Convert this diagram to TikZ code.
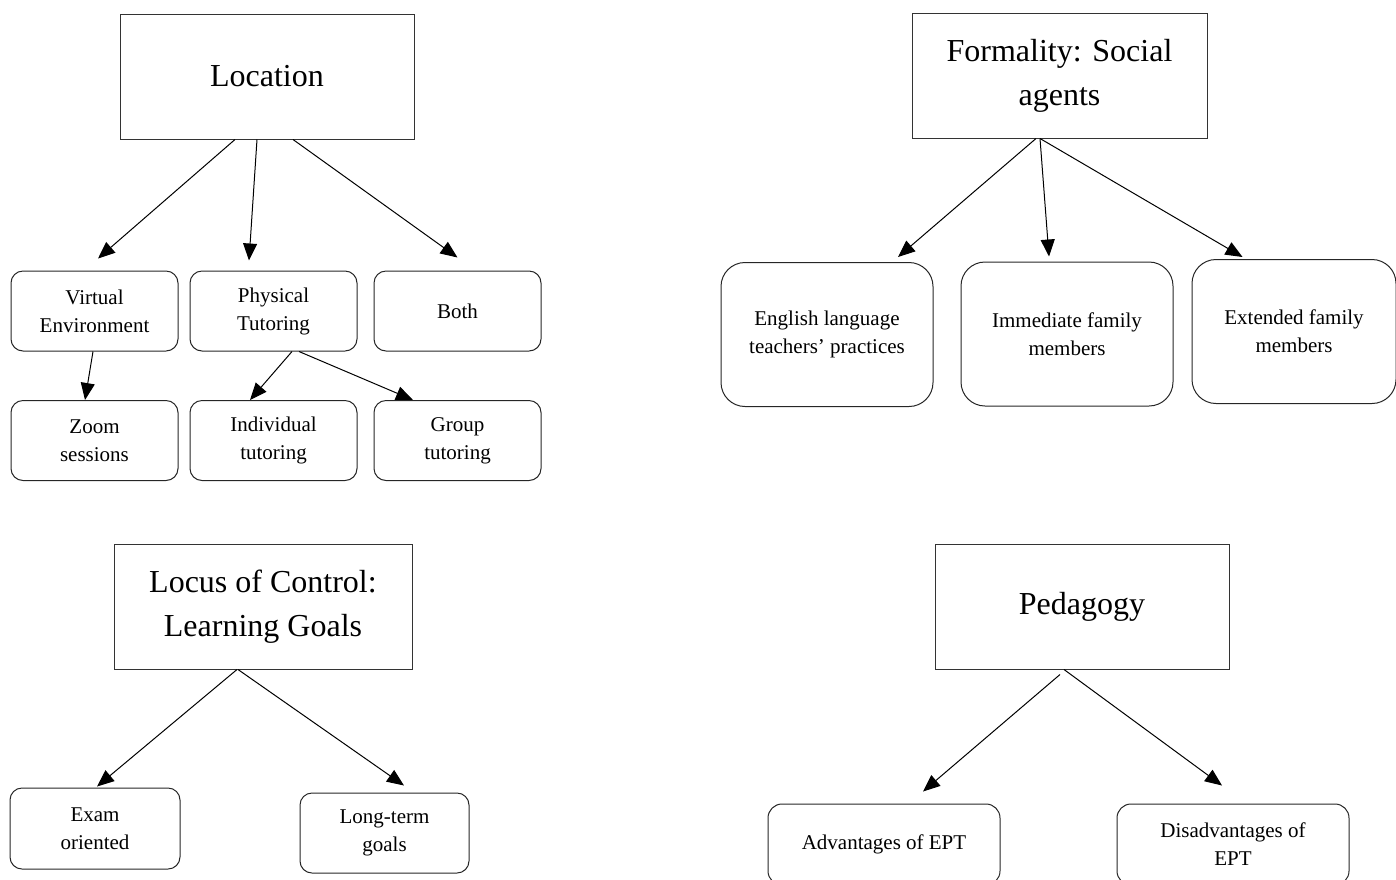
\documentclass[tikz,border=0pt]{standalone}
\usepackage{fontspec}
\setmainfont{Liberation Serif}
\usetikzlibrary{arrows.meta}

\begin{document}
\begin{tikzpicture}[x=0.5pt,y=-0.5pt]
\tikzset{
  headbox/.style={rectangle,draw=black!80,line width=0.5pt,minimum width=147pt,minimum height=62.5pt,align=center,font=\fontsize{16}{22}\selectfont},
  leafbox/.style={rectangle,rounded corners=6pt,draw=black!85,line width=0.5pt,minimum width=83.5pt,minimum height=40pt,align=center,font=\fontsize{10.5}{14}\selectfont},
  tallbox/.style={leafbox,rounded corners=12pt,minimum width=106pt,minimum height=72pt},
  widebox/.style={leafbox,rounded corners=7pt,minimum width=116pt,minimum height=40.5pt},
  directed/.style={draw=black,line width=0.5pt,-{Triangle[length=8.5pt,width=7pt]}}
}
\useasboundingbox (0,0) rectangle (1396,879);
\clip (0,0) rectangle (1396,879);
% location
\node[headbox] (n_loc) at (267,76.5) {Location};
\node[leafbox] (n_virt) at (94.5,311) {Virtual\\Environment};
\node[leafbox] (n_phys) at (273.5,311) {Physical\\Tutoring};
\node[leafbox] (n_both) at (457.5,311) {Both};
\node[leafbox] (n_zoom) at (94.5,440.5) {Zoom\\sessions};
\node[leafbox] (n_indiv) at (273.5,440.5) {Individual\\tutoring};
\node[leafbox] (n_group) at (457.5,440.5) {Group\\tutoring};
\draw[directed] ([shift={(-32,0)}]n_loc.south) -- ([shift={(3.5,-12)}]n_virt.north);
\draw[directed] ([shift={(-10,0)}]n_loc.south) -- ([shift={(-24.5,-10)}]n_phys.north);
\draw[directed] ([shift={(26,0)}]n_loc.south) -- ([shift={(0,-13)}]n_both.north);
\draw[directed] ([shift={(-1.5,0)}]n_virt.south) -- ([shift={(-9.5,0)}]n_zoom.north);
\draw[directed] ([shift={(18.5,0)}]n_phys.south) -- ([shift={(-23.5,0)}]n_indiv.north);
\draw[directed] ([shift={(25.5,0)}]n_phys.south) -- ([shift={(-44.5,0)}]n_group.north);
% formality
\node[headbox,minimum width=147.5pt] (n_form) at (1059.5,75.5) {Formality: Social\\agents};
\node[tallbox] (n_eng) at (827,334.5) {English language\\teachers’ practices};
\node[tallbox] (n_imm) at (1067,334) {Immediate family\\members};
\node[tallbox,minimum width=102pt] (n_ext) at (1294,331.5) {Extended family\\members};
\draw[directed] ([shift={(-23.5,0)}]n_form.south) -- ([shift={(71,-5)}]n_eng.north);
\draw[directed] ([shift={(-19.5,0)}]n_form.south) -- ([shift={(-18,-5)}]n_imm.north);
\draw[directed] ([shift={(-19.5,0)}]n_form.south) -- ([shift={(-51.5,-2)}]n_ext.north);
% locus of control
\node[headbox,minimum width=149pt] (n_locus) at (263,606.5) {Locus of Control:\\Learning Goals};
\node[leafbox,minimum width=85pt,minimum height=40.5pt] (n_exam) at (95,828.5) {Exam\\oriented};
\node[leafbox,minimum width=84.5pt] (n_long) at (384.5,833) {Long-term\\goals};
\draw[directed] ([shift={(-26,0)}]n_locus.south) -- ([shift={(2,-1)}]n_exam.north);
\draw[directed] ([shift={(-25,0)}]n_locus.south) -- ([shift={(19.5,-7)}]n_long.north);
% pedagogy
\node[headbox] (n_ped) at (1082,606.5) {Pedagogy};
\node[widebox] (n_adv) at (884,844.5) {Advantages of EPT};
\node[widebox] (n_dis) at (1233,844.5) {Disadvantages of\\EPT};
\draw[directed] ([shift={(-22,5)}]n_ped.south) -- ([shift={(39,-12)}]n_adv.north);
\draw[directed] ([shift={(-18,0)}]n_ped.south) -- ([shift={(-11,-18)}]n_dis.north);
\end{tikzpicture}
\end{document}
